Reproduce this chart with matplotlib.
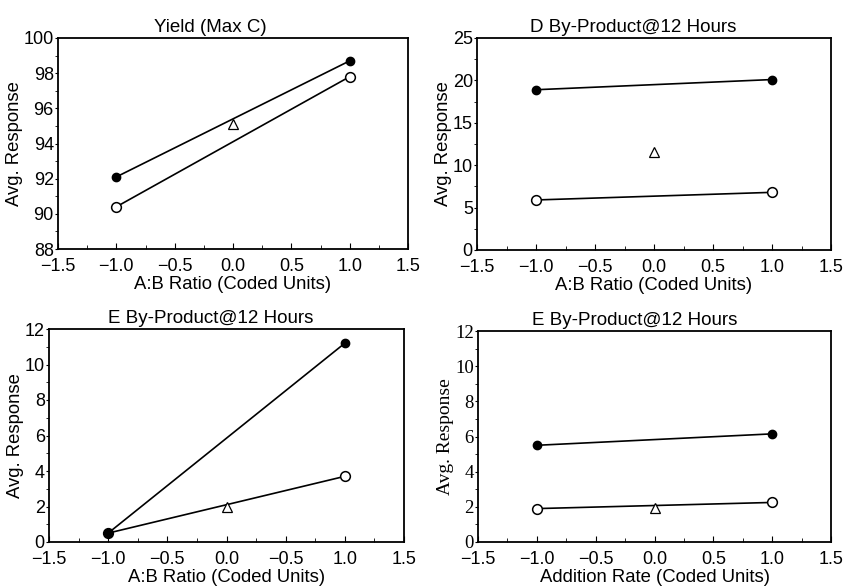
import matplotlib.pyplot as plt
from matplotlib.ticker import MultipleLocator

plt.rcParams['font.family'] = ['Liberation Sans', 'DejaVu Sans']

x_ends = [-1, 1]
x_center = [0]

# Yield (Max C)
yield_filled = [92.1, 98.7]
yield_open = [90.4, 97.8]
yield_center = [95.1]

# D By-Product @ 12 Hours
d_filled = [18.9, 20.1]
d_open = [5.9, 6.8]
d_center = [11.5]

# E By-Product @ 12 Hours vs A:B ratio
e_filled = [0.5, 11.2]
e_open = [0.5, 3.7]
e_center = [2.0]

# E By-Product @ 12 Hours vs addition rate
r_filled = [5.5, 6.15]
r_open = [1.9, 2.25]
r_center = [1.95]

x_ticks = [-1.5, -1.0, -0.5, 0.0, 0.5, 1.0, 1.5]
x_labels = ['\u22121.5', '\u22121.0', '\u22120.5', '0.0', '0.5', '1.0', '1.5']
# the original figure prints -0.5 where 0.5 should be in one panel
x_labels_typo = ['\u22121.5', '\u22121.0', '\u22120.5', '0.0', '\u22120.5', '1.0', '1.5']

fig = plt.figure(figsize=(8.44, 5.87), dpi=100)
W, H = 844, 587


def make_ax(l, t, r, b):
    return fig.add_axes([l / W, 1 - b / H, (r - l) / W, (b - t) / H])


def panel(ax, filled, opened, center, title, xlabel, ylim, major, minor,
          xlabels, title_x=0.5, serif_y=False):
    ax.plot(x_ends, opened, color='black', lw=1.2, marker='o', ms=7,
            mfc='white', mec='black', mew=1.1, zorder=3)
    ax.plot(x_ends, filled, color='black', lw=1.2, marker='o', ms=6,
            mfc='black', mec='black', zorder=4)
    ax.plot(x_center, center, linestyle='none', marker='^', ms=7,
            mfc='white', mec='black', mew=0.9, zorder=5)
    ax.set_xlim(-1.5, 1.5)
    ax.set_ylim(*ylim)
    ax.set_xticks(x_ticks)
    ax.set_xticklabels(xlabels)
    ax.xaxis.set_minor_locator(MultipleLocator(0.25))
    ax.yaxis.set_major_locator(MultipleLocator(major))
    ax.yaxis.set_minor_locator(MultipleLocator(minor))
    ax.tick_params(axis='x', which='both', direction='in', labelsize=13,
                   pad=6.5)
    ax.tick_params(axis='x', which='major', length=4)
    ax.tick_params(axis='x', which='minor', length=3)
    ax.tick_params(axis='y', which='both', direction='out', labelsize=13,
                   pad=1)
    ax.tick_params(axis='y', which='both', length=2)
    for s in ax.spines.values():
        s.set_linewidth(1.3)
    ax.set_title(title, fontsize=13.5, pad=4, x=title_x)
    ax.set_xlabel(xlabel, fontsize=13.3, labelpad=1)
    if serif_y:
        ax.set_ylabel('Avg. Response', fontsize=14, labelpad=1,
                      family=['Liberation Serif', 'DejaVu Serif'])
        for t in ax.get_yticklabels():
            t.set_family(['Liberation Serif', 'DejaVu Serif'])
            t.set_fontsize(13.5)
    else:
        ax.set_ylabel('Avg. Response', fontsize=13.3, labelpad=0.5)


ax1 = make_ax(58, 38, 408, 249)
panel(ax1, yield_filled, yield_open, yield_center, 'Yield (Max C)',
      'A:B Ratio (Coded Units)', (88, 100), 2, 1, x_labels, title_x=0.434)

ax2 = make_ax(477, 38, 831, 250)
panel(ax2, d_filled, d_open, d_center, 'D By-Product@12 Hours',
      'A:B Ratio (Coded Units)', (0, 25), 5, 2.5, x_labels, title_x=0.442)

ax3 = make_ax(49, 329, 404, 542)
panel(ax3, e_filled, e_open, e_center, 'E By-Product@12 Hours',
      'A:B Ratio (Coded Units)', (0, 12), 2, 1, x_labels_typo, title_x=0.456)

ax4 = make_ax(478, 331, 831, 542)
panel(ax4, r_filled, r_open, r_center, 'E By-Product@12 Hours',
      'Addition Rate (Coded Units)', (0, 12), 2, 1, x_labels, title_x=0.443,
      serif_y=True)

fig.savefig('out.png', dpi=100)
